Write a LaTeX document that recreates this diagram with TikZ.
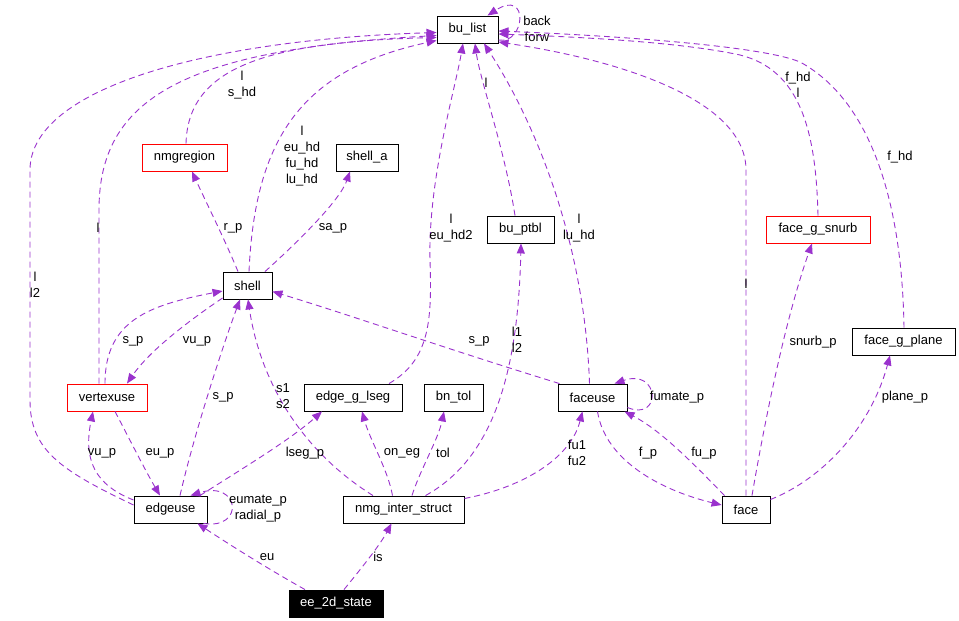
\documentclass[tikz,border=0pt]{standalone}
\usepackage{fontspec}
\setmainfont{Liberation Sans}
\usetikzlibrary{arrows.meta}
\definecolor{dorchid}{HTML}{9A32CD}
\tikzset{
  box/.style={draw=black, line width=0.9pt, rectangle, minimum height=27pt, inner sep=0pt, font=\fontsize{13}{16}\selectfont},
  redbox/.style={box, draw=red},
  blackbox/.style={box, fill=black, text=white},
  lbl/.style={inner sep=0pt, align=center, font=\fontsize{13}{16}\selectfont},
  rel/.style={draw=dorchid, line width=0.9pt, dash pattern=on 6pt off 4pt, -{Triangle[length=10pt,width=8pt]}, dorchid}
}
\begin{document}
\begin{tikzpicture}[x=1pt,y=-1pt]
\useasboundingbox (0,0) rectangle (959,621);
% nodes
\node[box, minimum width=61pt] (bu_list) at (467.5,29.5) {bu\_list};
\node[redbox, minimum width=85pt] (nmgregion) at (184.5,157.5) {nmgregion};
\node[box, minimum width=62pt] (shell_a) at (367,157.5) {shell\_a};
\node[box, minimum width=49pt] (shell) at (247.5,285.5) {shell};
\node[redbox, minimum width=80pt] (vertexuse) at (107,397.5) {vertexuse};
\node[box, minimum width=73pt] (edgeuse) at (170.5,509.5) {edgeuse};
\node[box, minimum width=98pt] (edge_g_lseg) at (353,397.5) {edge\_g\_lseg};
\node[box, minimum width=59pt] (bn_tol) at (453.5,397.5) {bn\_tol};
\node[box, minimum width=121pt] (nmg) at (403.5,509.5) {nmg\_inter\_struct};
\node[blackbox, minimum width=94pt] (ee) at (336,603.5) {ee\_2d\_state};
\node[box, minimum width=67pt] (bu_ptbl) at (520.5,229.5) {bu\_ptbl};
\node[box, minimum width=69pt] (faceuse) at (592.5,397.5) {faceuse};
\node[box, minimum width=48pt] (face) at (746,509.5) {face};
\node[redbox, minimum width=104pt] (snurb) at (818,229.5) {face\_g\_snurb};
\node[box, minimum width=103pt] (plane) at (903.5,341.5) {face\_g\_plane};

% bu_list self loop
\draw[rel] ([yshift=-10.5pt]bu_list.east) .. controls (525,45) and (530,-12) .. ([xshift=20pt]bu_list.north);
\node[lbl] at (537,28.5) {back\\forw};

% to bu_list from the left
\draw[rel] ([yshift=4.5pt]edgeuse.west) .. controls (60,470) and (30,450) .. (30,400) -- (30,170) .. controls (30,90) and (200,40) .. ([yshift=-3pt]bu_list.west);
\node[lbl] at (35,285) {l\\l2};
\draw[rel] ([xshift=-8pt]vertexuse.north) -- (99,210) .. controls (99,100) and (180,50) .. ([yshift=-6pt]bu_list.west);
\node[lbl] at (98,228) {l};
\draw[rel] ([xshift=1.5pt]nmgregion.north) .. controls (188,70) and (260,42) .. ([yshift=-8pt]bu_list.west);
\node[lbl] at (242,85) {l\\s\_hd};
\draw[rel] ([xshift=1.5pt]shell.north) .. controls (255,140) and (300,70) .. ([yshift=-11pt]bu_list.west);
\node[lbl] at (302,156) {l\\eu\_hd\\fu\_hd\\lu\_hd};

% shell relations
\draw[rel] ([xshift=17.5pt]shell.north) .. controls (300,240) and (340,200) .. ([xshift=-17pt]shell_a.south);
\node[lbl] at (333,228) {sa\_p};
\draw[rel] ([xshift=-9.5pt]shell.north) .. controls (225,240) and (205,200) .. ([xshift=7.5pt]nmgregion.south);
\node[lbl] at (233,228) {r\_p};
\draw[rel] ([xshift=-2pt]vertexuse.north) .. controls (105,320) and (150,305) .. ([yshift=-5.5pt]shell.west);
\node[lbl] at (133,341) {s\_p};
\draw[rel] ([yshift=-12.5pt]shell.west) .. controls (190,320) and (150,350) .. ([xshift=20pt]vertexuse.north);
\node[lbl] at (197,341) {vu\_p};
\draw[rel] ([xshift=9.5pt]edgeuse.north) .. controls (195,430) and (225,340) .. ([xshift=-7.5pt]shell.south);
\node[lbl] at (223,397) {s\_p};
\draw[rel] ([xshift=-30.5pt]nmg.north) .. controls (300,450) and (260,380) .. ([xshift=0.5pt]shell.south);
\node[lbl] at (283,396) {s1\\s2};
\draw[rel] ([xshift=-33pt]faceuse.north) .. controls (450,350) and (350,315) .. ([yshift=-6pt]shell.east);
\node[lbl] at (479,341) {s\_p};

% edgeuse / vertexuse
\draw[rel] ([yshift=9.5pt]edgeuse.west) .. controls (95,485) and (83,460) .. ([xshift=-14pt]vertexuse.south);
\node[lbl] at (102,453) {vu\_p};
\draw[rel] ([xshift=8pt]vertexuse.south) .. controls (130,440) and (145,470) .. ([xshift=-10.5pt]edgeuse.north);
\node[lbl] at (160,453) {eu\_p};
\draw[rel] ([xshift=33pt]edgeuse.south) .. controls (245,530) and (240,480) .. ([xshift=20pt]edgeuse.north);
\node[lbl] at (258,509) {eumate\_p\\radial\_p};
\draw[rel] ([xshift=-31pt]ee.north) .. controls (270,570) and (230,545) .. ([xshift=27pt]edgeuse.south);
\node[lbl] at (267,557) {eu};
\draw[rel] ([xshift=29.5pt]edgeuse.north) .. controls (240,470) and (290,440) .. ([xshift=-31pt]edge_g_lseg.south);
\node[lbl] at (305,453) {lseg\_p};

% nmg_inter_struct
\draw[rel] ([xshift=-11pt]nmg.north) .. controls (388,470) and (370,440) .. ([xshift=9pt]edge_g_lseg.south);
\node[lbl] at (402,453) {on\_eg};
\draw[rel] ([xshift=8.5pt]nmg.north) .. controls (420,470) and (438,440) .. ([xshift=-9.5pt]bn_tol.south);
\node[lbl] at (443,453) {tol};
\draw[rel] ([xshift=22pt]nmg.north) .. controls (490,460) and (518,380) .. ([xshift=0.5pt]bu_ptbl.south);
\node[lbl] at (517,340) {l1\\l2};
\draw[rel] ([yshift=11pt]nmg.east) .. controls (520,488) and (570,460) .. ([xshift=-10pt]faceuse.south);
\node[lbl] at (577,453) {fu1\\fu2};
\draw[rel] ([xshift=8pt]ee.north) .. controls (360,570) and (380,545) .. ([xshift=-12pt]nmg.south);
\node[lbl] at (378,557) {is};

% to bu_list from below
\draw[rel] ([xshift=36pt]edge_g_lseg.north) .. controls (430,360) and (432,320) .. (430,260) .. controls (428,180) and (455,90) .. ([xshift=-4.5pt]bu_list.south);
\node[lbl] at (451,228) {l\\eu\_hd2};
\draw[rel] ([xshift=-5.5pt]bu_ptbl.north) .. controls (505,150) and (480,80) .. ([xshift=7.5pt]bu_list.south);
\node[lbl] at (486,83) {l};
\draw[rel] ([xshift=-3pt]faceuse.north) .. controls (585,250) and (540,130) .. ([xshift=16.5pt]bu_list.south);
\node[lbl] at (579,228) {l\\lu\_hd};

% to bu_list from the right
\draw[rel] (face.north) -- (746,170) .. controls (746,100) and (620,60) .. ([yshift=-12.5pt]bu_list.east);
\node[lbl] at (746,284) {l};
\draw[rel] (snurb.north) .. controls (816,130) and (800,70) .. (740,55) .. controls (680,42) and (580,37) .. ([yshift=-4.5pt]bu_list.east);
\node[lbl] at (798,85) {f\_hd\\l};
\draw[rel] ([xshift=0.5pt]plane.north) .. controls (902,200) and (870,100) .. (800,62) .. controls (760,45) and (600,35) .. ([yshift=-1.5pt]bu_list.east);
\node[lbl] at (900,157) {f\_hd};

% face relations
\draw[rel] ([xshift=6pt]face.north) .. controls (765,420) and (785,320) .. ([xshift=-6pt]snurb.south);
\node[lbl] at (813,342) {snurb\_p};
\draw[rel] ([yshift=10pt]face.east) .. controls (820,480) and (870,430) .. ([xshift=-13.5pt]plane.south);
\node[lbl] at (905,397) {plane\_p};
\draw[rel] ([yshift=-10pt]faceuse.east) .. controls (662,422) and (660,368) .. ([xshift=22pt]faceuse.north);
\node[lbl] at (677,397) {fumate\_p};
\draw[rel] ([xshift=5pt]faceuse.south) .. controls (605,460) and (660,490) .. ([yshift=4.5pt]face.west);
\node[lbl] at (648,453) {f\_p};
\draw[rel] ([xshift=3pt]face.north west) .. controls (690,460) and (660,430) .. ([xshift=32pt]faceuse.south);
\node[lbl] at (704,453) {fu\_p};
\end{tikzpicture}
\end{document}
